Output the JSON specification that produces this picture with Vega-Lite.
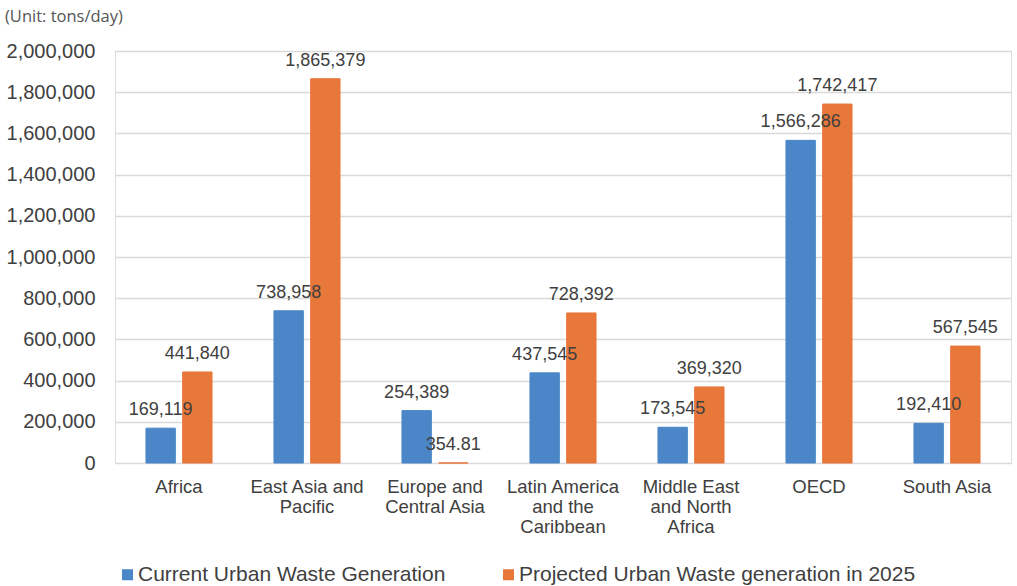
{
  "$schema": "https://vega.github.io/schema/vega-lite/v6.json",
  "autosize": "none",
  "width": 896,
  "height": 412,
  "padding": {"left": 115, "top": 51, "right": 6, "bottom": 123},
  "background": "white",
  "title": {
    "text": "(Unit: tons/day)",
    "anchor": "start",
    "frame": "group",
    "dx": -110,
    "offset": 16,
    "font": "Open Sans",
    "fontSize": 16.5,
    "fontWeight": "normal",
    "color": "#555555"
  },
  "data": {
    "values": [
      {"region": "Africa", "series": "Current Urban Waste Generation", "value": 169119},
      {"region": "Africa", "series": "Projected Urban Waste generation in 2025", "value": 441840},
      {"region": "East Asia and Pacific", "series": "Current Urban Waste Generation", "value": 738958},
      {"region": "East Asia and Pacific", "series": "Projected Urban Waste generation in 2025", "value": 1865379},
      {"region": "Europe and Central Asia", "series": "Current Urban Waste Generation", "value": 254389},
      {"region": "Europe and Central Asia", "series": "Projected Urban Waste generation in 2025", "value": 354.81},
      {"region": "Latin America and the Caribbean", "series": "Current Urban Waste Generation", "value": 437545},
      {"region": "Latin America and the Caribbean", "series": "Projected Urban Waste generation in 2025", "value": 728392},
      {"region": "Middle East and North Africa", "series": "Current Urban Waste Generation", "value": 173545},
      {"region": "Middle East and North Africa", "series": "Projected Urban Waste generation in 2025", "value": 369320},
      {"region": "OECD", "series": "Current Urban Waste Generation", "value": 1566286},
      {"region": "OECD", "series": "Projected Urban Waste generation in 2025", "value": 1742417},
      {"region": "South Asia", "series": "Current Urban Waste Generation", "value": 192410},
      {"region": "South Asia", "series": "Projected Urban Waste generation in 2025", "value": 567545}
    ]
  },
  "encoding": {
    "x": {
      "field": "region",
      "type": "nominal",
      "sort": null,
      "title": null,
      "scale": {"paddingInner": 0.484, "paddingOuter": 0.242},
      "axis": {
        "ticks": false,
        "domain": false,
        "labelAngle": 0,
        "labelPadding": 14,
        "labelFont": "Liberation Sans",
        "labelFontSize": 18.5,
        "labelColor": "#404040",
        "labelLineHeight": 20,
        "labelLimit": 200,
        "labelExpr": "datum.label == 'East Asia and Pacific' ? ['East Asia and', 'Pacific'] : datum.label == 'Europe and Central Asia' ? ['Europe and', 'Central Asia'] : datum.label == 'Latin America and the Caribbean' ? ['Latin America', 'and the', 'Caribbean'] : datum.label == 'Middle East and North Africa' ? ['Middle East', 'and North', 'Africa'] : datum.label"
      }
    },
    "xOffset": {
      "field": "series",
      "type": "nominal",
      "sort": null,
      "scale": {"paddingInner": 0.2, "paddingOuter": 0}
    },
    "y": {
      "field": "value",
      "type": "quantitative",
      "title": null,
      "scale": {"domain": [0, 2000000], "nice": false},
      "axis": {
        "values": [0, 200000, 400000, 600000, 800000, 1000000, 1200000, 1400000, 1600000, 1800000, 2000000],
        "format": ",.0f",
        "ticks": false,
        "domain": false,
        "grid": true,
        "gridColor": "#d9d9d9",
        "gridWidth": 1.5,
        "labelPadding": 20,
        "labelFont": "Liberation Sans",
        "labelFontSize": 20,
        "labelColor": "#404040"
      }
    }
  },
  "layer": [
    {
      "mark": {"type": "bar", "strokeWidth": 1},
      "encoding": {
        "color": {
          "field": "series",
          "type": "nominal",
          "sort": null,
          "scale": {"range": ["#4a86c8", "#e8773a"]},
          "legend": {
            "title": null,
            "orient": "none",
            "legendX": 2,
            "legendY": 513,
            "direction": "horizontal",
            "columns": 2,
            "columnPadding": 52,
            "symbolType": "square",
            "symbolSize": 121,
            "symbolStrokeWidth": 0,
            "labelOffset": 0,
            "labelFont": "Liberation Sans",
            "labelFontSize": 21,
            "labelColor": "#404040",
            "labelLimit": 600
          }
        },
        "stroke": {
          "field": "series",
          "type": "nominal",
          "sort": null,
          "scale": {"range": ["#4a86c8", "#e8773a"]},
          "legend": null
        }
      }
    },
    {
      "mark": {
        "type": "text",
        "baseline": "alphabetic",
        "dy": -13,
        "font": "Liberation Sans",
        "fontSize": 18,
        "color": "#404040"
      },
      "encoding": {
        "text": {"field": "value", "type": "quantitative", "format": ","}
      }
    }
  ]
}
